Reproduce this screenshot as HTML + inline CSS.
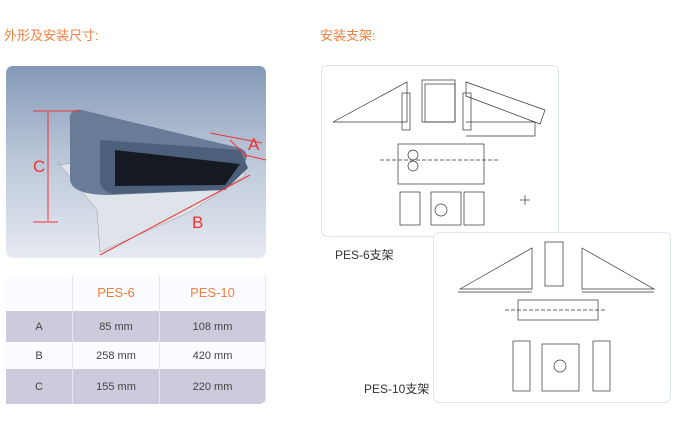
<!DOCTYPE html>
<html><head><meta charset="utf-8"><style>
body{margin:0;width:675px;height:436px;background:#fff;position:relative;overflow:hidden;font-family:"Liberation Sans","Noto Sans CJK SC",sans-serif}
.t{position:absolute;color:#f08040;font-size:13px;line-height:13px}
.photo{position:absolute;left:6px;top:66px;width:260px;height:192px;border-radius:7px;background:linear-gradient(#8499b8,#b8c4d6 45%,#e6eaf2)}
table{position:absolute;left:6px;top:275px;width:260px;border-collapse:collapse;font-size:11px;color:#444;table-layout:fixed}
td{text-align:center;border-right:1px solid #e6e6f0;padding:0;line-height:12px}
.h td{height:36px;background:#fbfcff;color:#f08040;font-size:13px}
.g td{background:#cccbdb}
.w td{background:#fbfcff}
.box{position:absolute;border:1px solid #dde4f0;border-radius:6px;background:#fff}
.lb{position:absolute;font-size:12px;color:#333}
</style></head><body>
<div class="t" style="left:4px;top:29px">外形及安装尺寸:</div>
<div class="t" style="left:320px;top:29px">安装支架:</div>
<div class="photo"></div>
<svg style="position:absolute;left:0;top:0" width="675" height="436">
<polygon points="58,162 97,210 100,252 190,212 245,175 240,155 100,160 58,165" fill="#dfe3ea" stroke="#999" stroke-width=".5"/>
<path d="M70,122 Q68,108 82,110 L240,148 Q250,152 245,162 L220,190 L110,195 Q72,195 70,180 Z" fill="#687c98"/>
<path d="M100,140 L240,150 L248,168 L225,190 L112,194 Q100,190 100,180 Z" fill="#4c607c"/>
<path d="M115,150 L240,164 L225,185 L115,186 Z" fill="#151a22"/>
<g stroke="#e33" stroke-width="1" fill="none">
<line x1="33" y1="111" x2="80" y2="111"/><line x1="33" y1="222" x2="58" y2="222"/>
<line x1="48" y1="112" x2="48" y2="221"/>
<line x1="210" y1="133" x2="262" y2="143"/><line x1="245" y1="155" x2="266" y2="160"/>
<line x1="230" y1="140" x2="247" y2="157"/>
<line x1="100" y1="255" x2="250" y2="175"/>
</g>
<g fill="#e33" font-size="17" font-family="Liberation Sans">
<text x="33" y="172">C</text><text x="248" y="150">A</text><text x="192" y="228">B</text></g>
</svg>
<table>
<tr class="h"><td style="width:66px;border-radius:7px 0 0 0"></td><td style="width:86px">PES-6</td><td>PES-10</td></tr>
<tr class="g"><td style="height:31px">A</td><td>85 mm</td><td>108 mm</td></tr>
<tr class="w"><td style="height:27px">B</td><td>258 mm</td><td>420 mm</td></tr>
<tr class="g"><td style="height:35px">C</td><td>155 mm</td><td style="border-radius:0 0 7px 0">220 mm</td></tr>
</table>
<div class="box" style="left:321px;top:65px;width:236px;height:170px"></div>
<div class="box" style="left:433px;top:232px;width:236px;height:169px"></div>
<svg style="position:absolute;left:0;top:0" width="675" height="436" fill="none" stroke="#333" stroke-width=".7">
<path d="M333,122 L407,82 L407,122 Z"/><rect x="402" y="93" width="8" height="37"/>
<rect x="422" y="80" width="33" height="42"/><rect x="425" y="84" width="30" height="38"/>
<rect x="463" y="93" width="8" height="37"/>
<path d="M466,82 L545,110 L540,124 L466,96 Z M466,122 L535,122 L535,136 L466,136"/>
<rect x="398" y="144" width="86" height="40"/><circle cx="413" cy="155" r="5"/><circle cx="413" cy="166" r="5"/>
<line x1="380" y1="160" x2="500" y2="160" stroke-dasharray="4 2"/>
<rect x="400" y="192" width="20" height="33"/><rect x="431" y="192" width="30" height="33"/><circle cx="441" cy="210" r="6"/><rect x="464" y="192" width="20" height="33"/>
<line x1="520" y1="200" x2="530" y2="200"/><line x1="525" y1="195" x2="525" y2="205"/>
<path d="M460,289 L532,248 L532,289 Z M458,292 L532,292"/><rect x="545" y="242" width="18" height="44"/>
<path d="M582,248 L654,289 L582,289 Z M582,292 L654,292"/>
<rect x="518" y="300" width="80" height="20"/><line x1="505" y1="310" x2="605" y2="310" stroke-dasharray="4 2"/>
<rect x="513" y="341" width="17" height="50"/><rect x="542" y="344" width="37" height="47"/><circle cx="560" cy="366" r="6"/><rect x="593" y="341" width="17" height="50"/>
</svg>
<div class="lb" style="left:335px;top:246px">PES-6支架</div>
<div class="lb" style="left:364px;top:380px">PES-10支架</div>
</body></html>
